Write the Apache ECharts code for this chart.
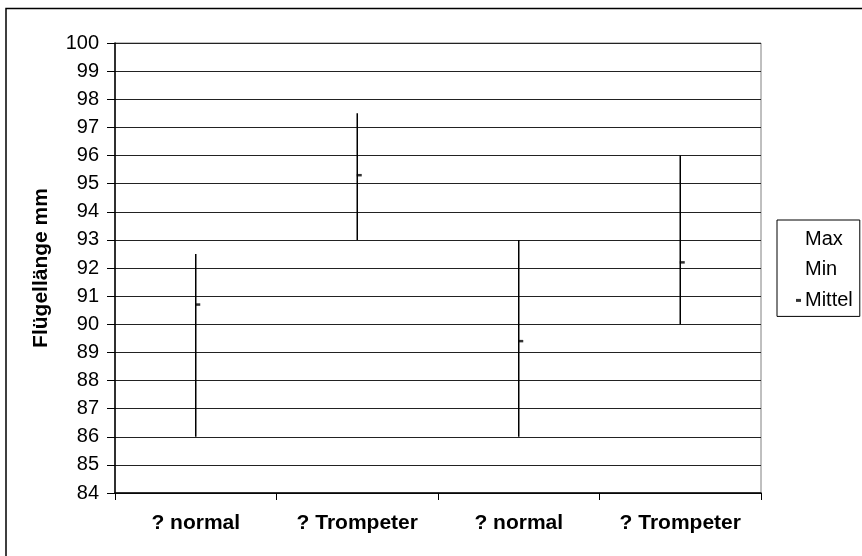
<!DOCTYPE html>
<html>
<head>
<meta charset="utf-8">
<script src="https://cdn.jsdelivr.net/npm/echarts@6/dist/echarts.min.js"></script>
<style>
html,body{margin:0;padding:0;background:#fff;}
#chart{width:862px;height:556px;}
</style>
</head>
<body>
<div id="chart"></div>
<script>
const categories = ['? normal', '? Trompeter', '? normal', '? Trompeter'];
const maxValues = [92.5, 97.5, 93, 96];
const minValues = [86, 93, 86, 90];
const meanValues = [90.7, 95.3, 89.4, 92.2];
const yTicks = [84, 100, 1]; // min, max, interval
const legendNames = ['Max', 'Min', 'Mittel'];
const yAxisTitle = 'Flügellänge mm';

const FONT = '"Liberation Sans", Arial, sans-serif';
const chart = echarts.init(document.getElementById('chart'), null, {renderer: 'canvas'});

const hiloData = categories.map((c, i) => [i, minValues[i], maxValues[i]]);

chart.setOption({
  animation: false,
  backgroundColor: '#fff',
  graphic: [{
    type: 'rect', silent: true, z: -1,
    shape: {x: 6, y: 8.5, width: 900, height: 600},
    style: {fill: 'none', stroke: '#000', lineWidth: 1.5}
  }],
  grid: {left: 115, right: 101, top: 43, bottom: 63, show: true, borderColor: '#808080', borderWidth: 1},
  legend: {
    orient: 'vertical', left: 777, top: 220,
    padding: [9, 7, 6, 19],
    borderColor: '#000', borderWidth: 1,
    itemWidth: 5, itemHeight: 3, itemGap: 10.7,
    selectedMode: false,
    textStyle: {fontFamily: FONT, fontSize: 20, color: '#000', lineHeight: 20, padding: [0, 0, 0, -1]},
    data: [
      {name: legendNames[0], icon: 'none'},
      {name: legendNames[1], icon: 'none'},
      {name: legendNames[2], icon: 'rect', itemStyle: {color: '#000'}}
    ]
  },
  xAxis: {
    type: 'category',
    data: categories,
    boundaryGap: true,
    axisLine: {lineStyle: {color: '#000', width: 1.5}},
    axisTick: {show: true, length: 7, lineStyle: {color: '#000', width: 1}},
    axisLabel: {interval: 0, margin: 20, fontFamily: FONT, fontSize: 21, fontWeight: 'bold', color: '#000'},
    splitLine: {show: false}
  },
  yAxis: {
    type: 'value',
    min: yTicks[0], max: yTicks[1], interval: yTicks[2],
    name: yAxisTitle,
    nameLocation: 'middle',
    nameGap: 63,
    nameTextStyle: {fontFamily: FONT, fontSize: 21, fontWeight: 'bold', color: '#000'},
    axisLine: {show: true, lineStyle: {color: '#000', width: 1.5}},
    axisTick: {show: true, length: 8, lineStyle: {color: '#000', width: 1}},
    axisLabel: {margin: 16, fontFamily: FONT, fontSize: 20, color: '#000'},
    splitLine: {show: true, lineStyle: {color: '#222', width: 1}}
  },
  series: [
    {
      name: 'Spanne', type: 'custom',
      data: hiloData,
      encode: {x: 0, y: [1, 2]},
      renderItem: function (params, api) {
        const x = api.value(0);
        const lo = api.coord([x, api.value(1)]);
        const hi = api.coord([x, api.value(2)]);
        return {type: 'line', shape: {x1: lo[0], y1: lo[1], x2: hi[0], y2: hi[1]},
                style: {stroke: '#000', lineWidth: 1.5}};
      },
      z: 3
    },
    {name: legendNames[0], type: 'scatter', symbol: 'none', data: maxValues.map((v, i) => [i, v]), itemStyle: {color: '#000'}},
    {name: legendNames[1], type: 'scatter', symbol: 'none', data: minValues.map((v, i) => [i, v]), itemStyle: {color: '#000'}},
    {
      name: legendNames[2], type: 'scatter',
      symbol: 'rect', symbolSize: [5, 2.5], symbolOffset: [2, 0],
      data: meanValues.map((v, i) => [i, v]),
      itemStyle: {color: '#000'}, z: 4
    }
  ]
});
</script>
</body>
</html>
